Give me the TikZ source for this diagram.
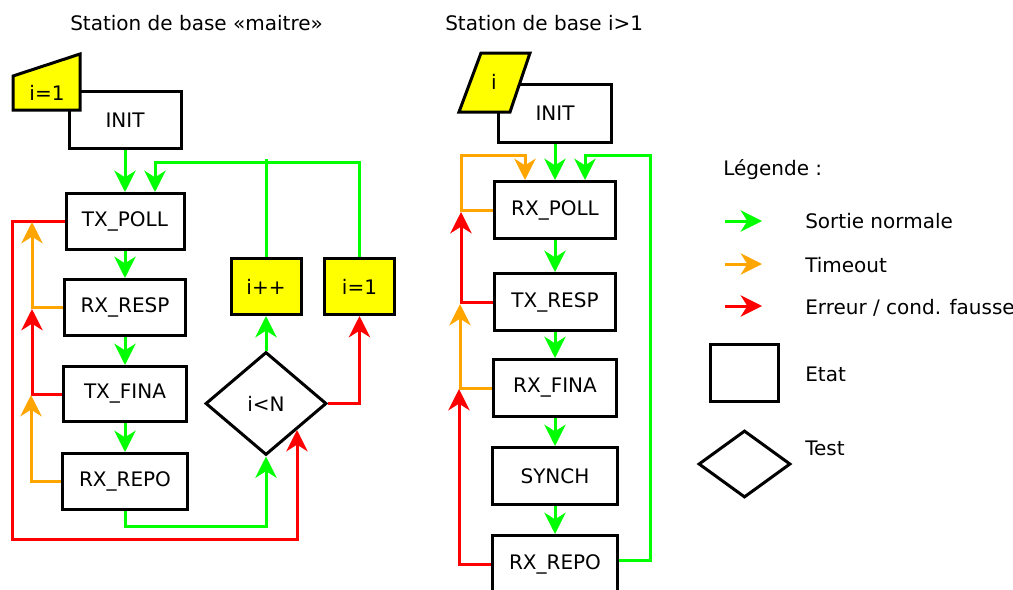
\documentclass[tikz,border=0pt]{standalone}
\usepackage{fontspec}
\setmainfont{DejaVu Sans}
\usetikzlibrary{arrows.meta,shapes.geometric,calc}
\definecolor{cgreen}{RGB}{0,255,0}
\definecolor{corange}{RGB}{255,165,0}
\definecolor{cred}{RGB}{255,0,0}
\definecolor{cyellow}{RGB}{255,255,0}
\begin{document}
\begin{tikzpicture}[x=0.75pt,y=-0.75pt,
  font=\fontsize{15pt}{18pt}\selectfont,
  state/.style={draw=black, line width=2.25pt, fill=white, inner sep=0pt},
  var/.style={state, fill=cyellow},
  test/.style={draw=black, line width=2.25pt, fill=white, diamond, inner sep=0pt},
  txt/.style={inner sep=0pt, anchor=base west},
  flow/.style={line width=2.25pt, -{Stealth[length=16pt,width=16pt,inset=5pt]}},
  okf/.style={flow, color=cgreen},
  tof/.style={flow, color=corange},
  errf/.style={flow, color=cred},
  ln/.style={line width=2.25pt}]
\useasboundingbox (0,0) rectangle (1013,589);
\clip (0,0) rectangle (1013,589);

% ---------- titles ----------
\node[txt] (title1) at (70,30) {Station de base «maitre»};
\node[txt] (title2) at (445,30) {Station de base i>1};

% ---------- left machine ----------
\node[state, minimum width=84pt, minimum height=42.75pt] (initA) at (125,120) {INIT};
\draw[ln, fill=cyellow] (13,76) -- (80,54) -- (80,110) -- (13,110) -- cycle;
\node (lab1) at (47,93) {i=1};
\node[state, minimum width=88.5pt, minimum height=42pt] (txpoll) at (125,221.5) {TX\_POLL};
\node[state, minimum width=90.75pt, minimum height=42pt] (rxresp) at (125,307.5) {RX\_RESP};
\node[state, minimum width=92.25pt, minimum height=41.25pt] (txfina) at (125,394) {TX\_FINA};
\node[state, minimum width=93.75pt, minimum height=42pt] (rxrepoA) at (125,481.5) {RX\_REPO};
\node[var, minimum width=52.5pt, minimum height=42pt] (ipp) at (266,286.5) {i++};
\node[var, minimum width=52.5pt, minimum height=42pt] (ione) at (359.5,286.5) {i=1};
\node[test, minimum width=90.75pt, minimum height=77.25pt] (dia) at (266,403.5) {i<N};

\coordinate (jA) at (155,162);
\coordinate (jB) at (266,159);
\coordinate (oA1) at (32,222);
\coordinate (rA1) at (32,309);
\coordinate (oA2) at (31,395);
\coordinate (rA2) at (12,539);
\coordinate (gA) at (125,526);

\draw[okf] (initA) -- (txpoll);
\draw[okf] (txpoll) -- (rxresp);
\draw[okf] (rxresp) -- (txfina);
\draw[okf] (txfina) -- (rxrepoA);
\draw[okf] (rxrepoA.south) -- (gA) -| (dia.south);
\draw[okf] (dia.north) -- (ipp.south);
\draw[ln, cgreen] (ipp.north) -- (jB);
\draw[okf] (ione.north) |- (jA) -- (txpoll.north -| jA);
\draw[errf] (dia.east) -| (ione.south);
\draw[errf] (txpoll.west) -| (rA2) -| (dia.south east);
\draw[tof] (rxresp.west) -| (oA1);
\draw[errf] (txfina.west) -| (rA1);
\draw[tof] (rxrepoA.west) -| (oA2);

% ---------- right machine ----------
\node[state, minimum width=84.75pt, minimum height=43.5pt] (initB) at (555,113.5) {INIT};
\draw[ln, fill=cyellow] (481,53) -- (530,53) -- (510,112) -- (459,112) -- cycle;
\node (lab2) at (494,82) {i};
\node[state, minimum width=90.75pt, minimum height=42.75pt] (rxpoll) at (555,210) {RX\_POLL};
\node[state, minimum width=90.75pt, minimum height=42.75pt] (txresp) at (555,302) {TX\_RESP};
\node[state, minimum width=92.25pt, minimum height=42.75pt] (rxfina) at (555,388) {RX\_FINA};
\node[state, minimum width=93.75pt, minimum height=42.75pt] (synch) at (555,476) {SYNCH};
\node[state, minimum width=93.75pt, minimum height=42.75pt] (rxrepoB) at (555,564) {RX\_REPO};

\coordinate (gB) at (650,155);
\coordinate (oB0) at (461,155);
\coordinate (rB1) at (461,212);
\coordinate (oB1) at (460,304);
\coordinate (rB2) at (459,389);

\draw[okf] (initB) -- (rxpoll);
\draw[okf] (rxpoll) -- (txresp);
\draw[okf] (txresp) -- (rxfina);
\draw[okf] (rxfina) -- (synch);
\draw[okf] (synch) -- (rxrepoB);
\draw[okf] ([yshift=3pt]rxrepoB.east) -| (gB) -| ([xshift=22.5pt]rxpoll.north);
\draw[tof] (rxpoll.west) -| (oB0) -| ([xshift=-22.5pt]rxpoll.north);
\draw[errf] (txresp.west) -| (rB1);
\draw[tof] (rxfina.west) -| (oB1);
\draw[errf] (rxrepoB.west) -| (rB2);

% ---------- legend ----------
\node[txt] (leg) at (723,175) {Légende :};
\coordinate (la1) at (725,221); \coordinate (lb1) at (762,221);
\coordinate (la2) at (725,264); \coordinate (lb2) at (762,264);
\coordinate (la3) at (725,306); \coordinate (lb3) at (762,306);
\draw[okf] (la1) -- (lb1);
\draw[tof] (la2) -- (lb2);
\draw[errf] (la3) -- (lb3);
\node[txt] (l1) at (805,228) {Sortie normale};
\node[txt] (l2) at (805,272) {Timeout};
\node[txt] (l3) at (805,314) {Erreur / cond. fausse};
\node[state, minimum width=51pt, minimum height=42.75pt] (etat) at (744.5,372.5) {};
\node[txt] (l4) at (805,381) {Etat};
\node[test, minimum width=69pt, minimum height=50.25pt] (tst) at (744.5,464) {};
\node[txt] (l5) at (805,455) {Test};
\end{tikzpicture}
\end{document}
